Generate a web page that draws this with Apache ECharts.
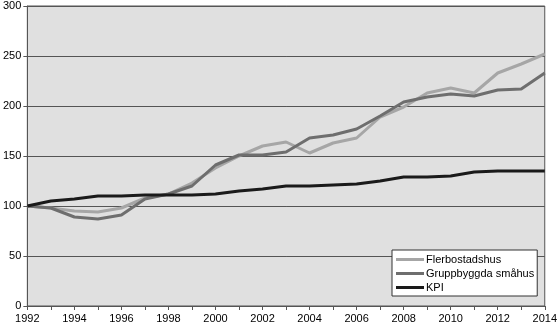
<!DOCTYPE html>
<html><head><meta charset="utf-8">
<script src="https://cdn.jsdelivr.net/npm/echarts@6/dist/echarts.min.js"></script>
<style>html,body{margin:0;padding:0;background:#fff}#c{width:560px;height:328px}</style>
</head><body><div id="c"></div>
<script>
const years = ['1992','1993','1994','1995','1996','1997','1998','1999','2000','2001','2002','2003','2004','2005','2006','2007','2008','2009','2010','2011','2012','2013','2014'];
const flerbostadshus = [100,98,95,94,98,108,112,123,138,150,160,164,153,163,168,189,199,213,218,213,233,242,252];
const gruppbyggda = [100,98,89,87,91,107,112,120,141,151,151,154,168,171,177,190,204,209,212,210,216,217,233];
const kpi = [100,105,107,110,110,111,111,111,112,115,117,120,120,121,122,125,129,129,130,134,135,135,135];
const yTicks = [0,50,100,150,200,250,300];

const chart = echarts.init(document.getElementById('c'), null, {renderer:'canvas'});
const font = 'Liberation Sans, Arial, sans-serif';
chart.setOption({
  animation:false,
  grid:{left:27,right:14,top:6,bottom:22,show:true,backgroundColor:'#e0e0e0',borderColor:'#555',borderWidth:1},
  xAxis:{type:'category',data:years,boundaryGap:false,
    axisLine:{lineStyle:{color:'#555',width:1}},
    axisTick:{show:true,interval:0,length:4,lineStyle:{color:'#555'}},
    axisLabel:{interval:1,color:'#000',fontFamily:font,fontSize:11,margin:7},
    splitLine:{show:false}},
  yAxis:{type:'value',min:yTicks[0],max:yTicks[yTicks.length-1],interval:50,
    axisLine:{show:true,lineStyle:{color:'#555',width:1}},
    axisTick:{show:true,length:4,lineStyle:{color:'#555'}},
    axisLabel:{color:'#000',fontFamily:font,fontSize:11,margin:6},
    splitLine:{show:true,lineStyle:{color:'#555',width:1}}},
  legend:{orient:'vertical',left:392,top:250,width:80,backgroundColor:'#fff',borderColor:'#333',borderWidth:1,
    padding:[4,3,3,4],itemGap:3,itemWidth:28,itemHeight:3,icon:'rect',
    textStyle:{fontFamily:font,fontSize:11,color:'#000',padding:[0,0,0,-3]},
    data:['Flerbostadshus','Gruppbyggda småhus','KPI']},
  series:[
    {name:'Flerbostadshus',type:'line',data:flerbostadshus,symbol:'none',lineStyle:{color:'#a6a6a6',width:3},itemStyle:{color:'#a6a6a6'}},
    {name:'Gruppbyggda småhus',type:'line',data:gruppbyggda,symbol:'none',lineStyle:{color:'#6e6e6e',width:3},itemStyle:{color:'#6e6e6e'}},
    {name:'KPI',type:'line',data:kpi,symbol:'none',lineStyle:{color:'#1a1a1a',width:3},itemStyle:{color:'#1a1a1a'}}
  ]
});
</script></body></html>
